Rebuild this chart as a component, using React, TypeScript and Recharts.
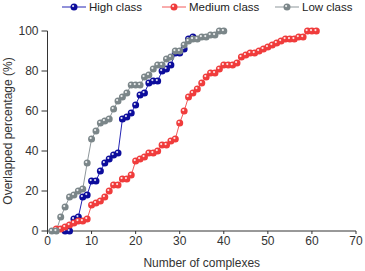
import React from 'react';
import { LineChart, Line, XAxis, YAxis, Legend } from 'recharts';

// values read per complex count, each series starts at its own first complex
const highStart = 4;
const highValues = [0, 0, 6, 7, 17, 18, 25, 25, 30, 34, 36, 38, 39, 56, 57, 59, 63, 68, 69, 74, 75, 75, 80, 81, 83, 89, 89, 91, 96, 97];

const mediumStart = 2;
const mediumValues = [1, 1, 2, 3, 4, 5, 5, 6, 13, 14, 15, 17, 20, 23, 23, 26, 26, 28, 35, 36, 37, 39, 39, 40, 43, 43, 45, 46, 54, 60, 67, 69, 71, 74, 77, 79, 79, 81, 83, 83, 83, 84, 87, 88, 89, 89, 90, 91, 92, 93, 94, 95, 96, 96, 96, 97, 97, 100, 100, 100];

const lowStart = 1;
const lowValues = [0, 0, 7, 12, 17, 18, 20, 21, 34, 46, 50, 54, 55, 56, 61, 65, 67, 69, 73, 73, 73, 77, 78, 81, 83, 83, 86, 87, 90, 90, 93, 95, 96, 96, 97, 97, 98, 98, 100, 100];

const xTicks = [0, 10, 20, 30, 40, 50, 60, 70];
const yTicks = [0, 20, 40, 60, 80, 100];

const toPoints = (start: number, values: number[]) =>
  values.map((y, i) => ({ x: start + i, y }));

const series = [
  { name: 'High class', data: toPoints(highStart, highValues), line: '#2424b4', dot: '#0c0c9c', legendX: 62 },
  { name: 'Medium class', data: toPoints(mediumStart, mediumValues), line: '#f25a5a', dot: '#f03c3c', legendX: 162 },
  { name: 'Low class', data: toPoints(lowStart, lowValues), line: '#8e979b', dot: '#7b8689', legendX: 275 },
];

const FONT = 'Arial, "Liberation Sans", sans-serif';

const BallDot = (color: string) => (props: any) => {
  const { cx, cy, index } = props;
  if (cx == null || cy == null) return <g key={index} />;
  return (
    <g key={index}>
      <circle cx={cx} cy={cy} r={3.5} fill={color} />
      <circle cx={cx - 0.9} cy={cy - 0.9} r={1.1} fill="#ffffff" fillOpacity={0.85} />
    </g>
  );
};

const LegendContent = () => (
  <div style={{ position: 'relative', width: 365, height: 14, whiteSpace: 'nowrap', fontFamily: FONT, fontSize: 11.5, color: '#222' }}>
    {series.map(s => (
      <div key={s.name} style={{ position: 'absolute', left: s.legendX, top: 0, display: 'flex', alignItems: 'center', height: 14 }}>
        <svg width={24} height={10} style={{ marginRight: 3 }}>
          <line x1={0} y1={5} x2={24} y2={5} stroke={s.line} strokeWidth={1} />
          <circle cx={12} cy={5} r={3.5} fill={s.dot} />
          <circle cx={11.1} cy={4.1} r={1.1} fill="#fff" fillOpacity={0.85} />
        </svg>
        <span>{s.name}</span>
      </div>
    ))}
  </div>
);

const YLabel = () => (
  <text x={8} y={131} transform="rotate(-90 8 131)" textAnchor="middle" dominantBaseline="central" fill="#333" fontSize={12} fontFamily={FONT}>
    Overlapped percentage (%)
  </text>
);

export default function App() {
  return (
    <div style={{ position: 'absolute', left: 0, top: 0, width: 365, height: 271, background: '#fff' }}>
      <LineChart width={365} height={271} margin={{ top: 31, right: 9, bottom: 0, left: 0 }}>
        <XAxis
          dataKey="x"
          type="number"
          domain={[0, 70]}
          ticks={xTicks}
          allowDuplicatedCategory={false}
          height={40}
          stroke="#333"
          tickSize={3}
          tick={{ fill: '#333', fontSize: 12, fontFamily: FONT }}
          label={{ value: 'Number of complexes', position: 'insideBottom', offset: 4, fill: '#333', fontSize: 12, fontFamily: FONT }}
        />
        <YAxis
          type="number"
          domain={[0, 100]}
          ticks={yTicks}
          width={47.5}
          stroke="#333"
          tickSize={6}
          tickMargin={3}
          tick={{ fill: '#333', fontSize: 12, fontFamily: FONT }}
          label={<YLabel />}
        />
        <Legend
          verticalAlign="middle"
          align="center"
          layout="horizontal"
          content={<LegendContent />}
          wrapperStyle={{ top: 0, left: 0, width: 365 }}
        />
        {series.map(s => (
          <Line
            key={s.name}
            name={s.name}
            data={s.data}
            dataKey="y"
            type="linear"
            stroke={s.line}
            strokeWidth={1}
            dot={BallDot(s.dot)}
            activeDot={false}
            isAnimationActive={false}
          />
        ))}
      </LineChart>
    </div>
  );
}
